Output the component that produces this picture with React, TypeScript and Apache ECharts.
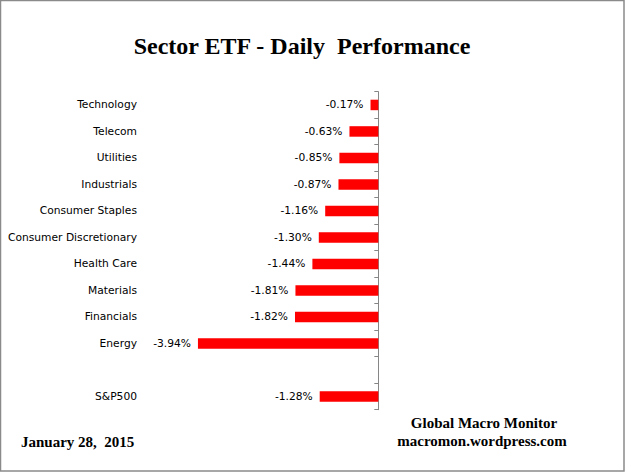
import React, { useEffect, useRef } from "react";
import * as echarts from "echarts";

const categories = [
  "Technology",
  "Telecom",
  "Utilities",
  "Industrials",
  "Consumer Staples",
  "Consumer Discretionary",
  "Health Care",
  "Materials",
  "Financials",
  "Energy",
  "",
  "S&P500",
];
const values: (number | null)[] = [
  -0.17, -0.63, -0.85, -0.87, -1.16, -1.3, -1.44, -1.81, -1.82, -3.94, null, -1.28,
];
const titleText = "Sector ETF - Daily  Performance";
const dateText = "January 28,  2015";
const sourceLines = ["Global Macro Monitor", "macromon.wordpress.com"];

const labelFont = "'DejaVu Sans', Verdana, sans-serif";
const serifFont = "'Liberation Serif', 'Times New Roman', serif";

const GRID_LEFT = 195.2;
const LABEL_RIGHT = 137;

export default function App() {
  const ref = useRef<HTMLDivElement>(null);
  useEffect(() => {
    if (!ref.current) return;
    const chart = echarts.init(ref.current, null, { renderer: "svg" });
    chart.setOption({
      animation: false,
      backgroundColor: "#ffffff",
      grid: {
        left: GRID_LEFT,
        right: 246.7,
        top: 91.7,
        height: 318,
        containLabel: false,
        outerBoundsMode: "none",
      },
      xAxis: { type: "value", min: -4, max: 0, show: false },
      yAxis: [
        {
          type: "category",
          inverse: true,
          position: "left",
          data: categories,
          axisLine: { show: false, onZero: false },
          axisTick: { show: false },
          axisLabel: {
            margin: GRID_LEFT - LABEL_RIGHT,
            fontSize: 10.7,
            fontFamily: labelFont,
            color: "#000",
          },
          splitLine: { show: false },
        },
        {
          type: "category",
          inverse: true,
          position: "right",
          data: categories,
          axisLine: { show: true, onZero: false, lineStyle: { color: "#868686", width: 1 } },
          axisTick: { show: true, inside: true, length: 4, lineStyle: { color: "#868686" } },
          axisLabel: { show: false },
          splitLine: { show: false },
        },
      ],
      series: [
        {
          type: "bar",
          yAxisIndex: 0,
          data: values,
          barWidth: 10.5,
          itemStyle: { color: "#ff0000" },
          label: {
            show: true,
            position: "left",
            distance: 7,
            fontSize: 10.7,
            fontFamily: labelFont,
            color: "#000",
            formatter: (p: any) => (p.value == null ? "" : Number(p.value).toFixed(2) + "%"),
          },
        },
      ],
      graphic: [
        {
          type: "rect",
          shape: { x: 0.5, y: 0.5, width: 623.5, height: 470.5 },
          style: { fill: "none", stroke: "#8a8a8a", lineWidth: 1.5 },
          silent: true,
        },
        {
          type: "text",
          x: 302,
          y: 46,
          style: {
            text: titleText,
            font: `bold 24px ${serifFont}`,
            fill: "#000",
            textAlign: "center",
            textVerticalAlign: "middle",
          },
        },
        {
          type: "text",
          x: 21,
          y: 441.7,
          style: {
            text: dateText,
            font: `bold 15px ${serifFont}`,
            fill: "#000",
            textAlign: "left",
            textVerticalAlign: "middle",
          },
        },
        {
          type: "text",
          x: 484,
          y: 423.3,
          style: {
            text: sourceLines[0],
            font: `bold 15px ${serifFont}`,
            fill: "#000",
            textAlign: "center",
            textVerticalAlign: "middle",
          },
        },
        {
          type: "text",
          x: 482,
          y: 440.7,
          style: {
            text: sourceLines[1],
            font: `bold 15px ${serifFont}`,
            fill: "#000",
            textAlign: "center",
            textVerticalAlign: "middle",
          },
        },
      ],
    });
    return () => chart.dispose();
  }, []);
  return (
    <div
      ref={ref}
      style={{ position: "fixed", left: 0, top: 0, width: 625, height: 472 }}
    />
  );
}
